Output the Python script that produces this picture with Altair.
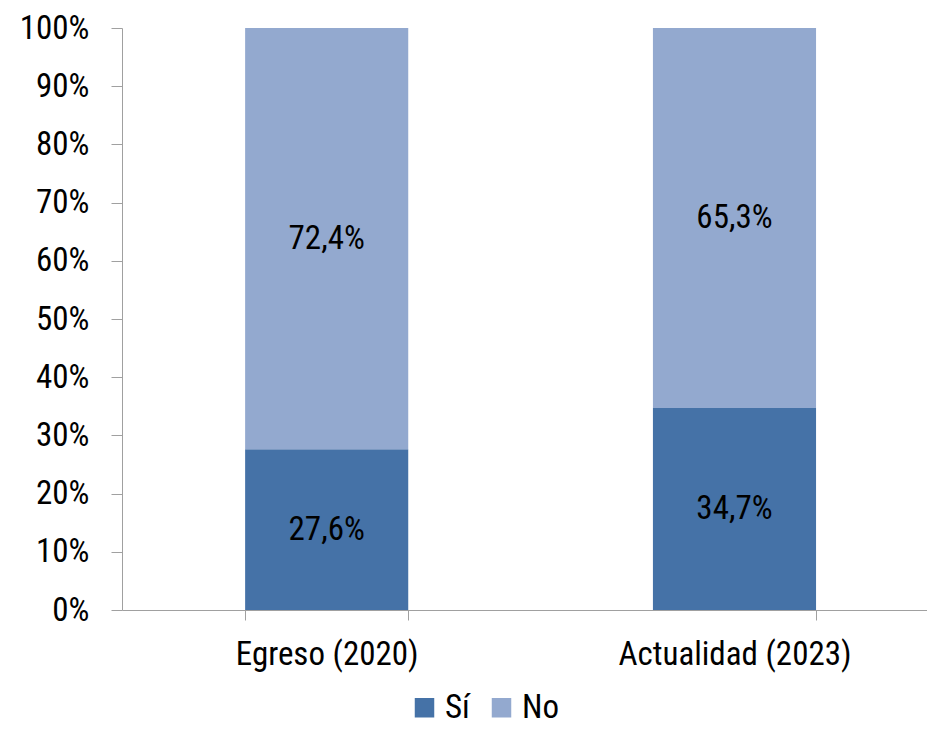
import altair as alt
import pandas as pd

categories = ["Egreso (2020)", "Actualidad (2023)"]
series = ["Sí", "No"]
si_values = [27.6, 34.7]
no_values = [72.4, 65.3]
colors = ["#4572A7", "#93A9CF"]

rows = []
for i, c in enumerate(categories):
    rows.append({"cat": c, "serie": "Sí", "value": si_values[i], "ord": 0})
    rows.append({"cat": c, "serie": "No", "value": no_values[i], "ord": 1})
df = pd.DataFrame(rows)

FONT = "Liberation Sans Narrow, Arial Narrow, Roboto Condensed, DejaVu Sans Condensed, sans-serif"
FS = 33

base = alt.Chart(df).transform_stack(
    stack="value", groupby=["cat"], as_=["y0", "y1"], sort=[alt.SortField("ord")]
).transform_calculate(
    mid="(datum.y0 + datum.y1) / 2",
    label="replace(format(datum.value, '.1f'), '.', ',') + '%'",
)

xenc = alt.X(
    "cat:N",
    sort=categories,
    title=None,
    scale=alt.Scale(paddingInner=0.6, paddingOuter=0.287, align=0.526),
    axis=alt.Axis(
        labelAngle=0, labelFontSize=FS, labelFont=FONT, labelColor="black",
        labelPadding=18, labelLimit=0, tickBand="extent", tickSize=10, tickColor="#a0a0a0",
        domainColor="#a0a0a0", grid=False,
    ),
)

bars = base.mark_bar().encode(
    x=xenc,
    y=alt.Y(
        "y0:Q",
        scale=alt.Scale(domain=[0, 100], nice=False),
        title=None,
        axis=alt.Axis(
            values=list(range(0, 101, 10)), labelExpr="datum.value + '%'",
            labelFontSize=FS, labelFont=FONT, labelColor="black",
            labelPadding=22, tickSize=11, tickColor="#a0a0a0",
            domainColor="#a0a0a0", grid=False,
        ),
    ),
    y2="y1:Q",
    color=alt.Color(
        "serie:N",
        scale=alt.Scale(domain=series, range=colors),
        title=None,
        legend=alt.Legend(
            orient="none", direction="horizontal", legendX=286, legendY=663,
            symbolType="square", symbolSize=380, symbolStrokeWidth=0,
            labelFontSize=FS, labelFont=FONT, labelColor="black",
            columnPadding=15, symbolOffset=0,
        ),
    ),
    order=alt.Order("ord:Q"),
)

texts = base.mark_text(fontSize=FS, font=FONT, color="black").encode(
    x=alt.X("cat:N", sort=categories),
    y=alt.Y("mid:Q"),
    text="label:N",
)

chart = alt.layer(bars, texts).properties(
    width=805, height=582,
    autosize=alt.AutoSizeParams(type="none"),
    padding={"left": 114, "top": 20, "right": 0, "bottom": 117},
).configure_view(stroke=None)

chart.save("out.html", embed_options={"renderer": "svg", "actions": False})
